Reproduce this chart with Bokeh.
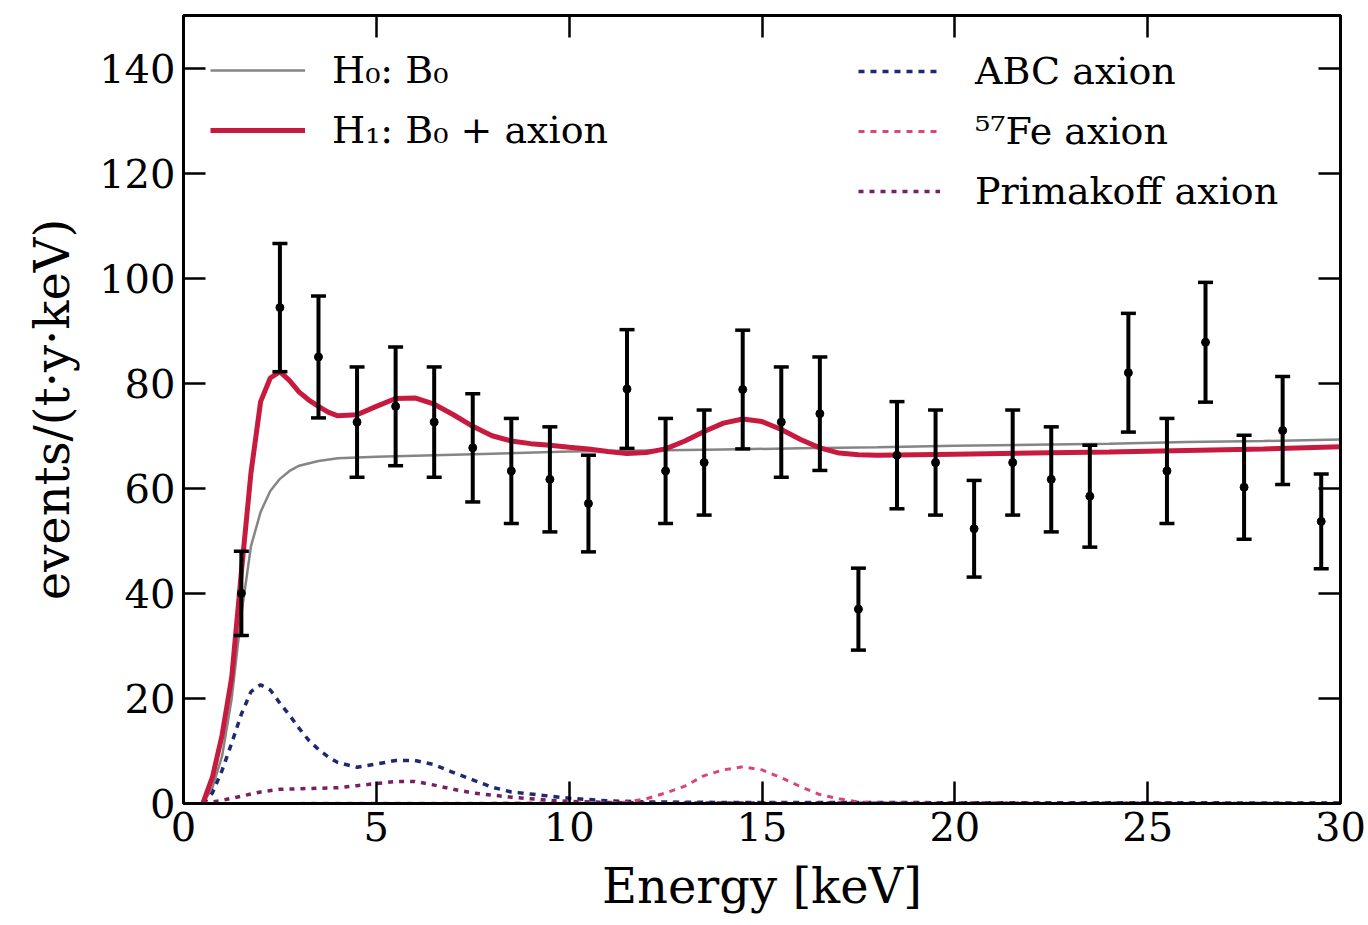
from bokeh.plotting import figure
from bokeh.models import (Legend, LegendItem, LinearAxis, Range1d, FixedTicker,
                          ColumnDataSource, CustomLabelingPolicy)
from bokeh.embed import file_html
from bokeh.resources import INLINE

# ---------------- data ----------------
bin_E = [1.5, 2.5, 3.5, 4.5, 5.5, 6.5, 7.5, 8.5, 9.5, 10.5, 11.5, 12.5, 13.5, 14.5,
         15.5, 16.5, 17.5, 18.5, 19.5, 20.5, 21.5, 22.5, 23.5, 24.5, 25.5, 26.5, 27.5, 28.5, 29.5]
counts = [40.0, 94.4, 85.0, 72.6, 75.6, 72.6, 67.7, 63.3, 61.7, 57.1, 78.9, 63.3, 64.9, 78.8,
          72.6, 74.2, 37.0, 66.3, 64.9, 52.3, 64.9, 61.7, 58.5, 82.0, 63.3, 87.8, 60.2, 71.0, 53.7]
errors = [8.0, 12.2, 11.6, 10.5, 11.3, 10.5, 10.3, 10.0, 10.0, 9.2, 11.3, 10.0, 10.0, 11.3,
          10.5, 10.8, 7.8, 10.2, 10.0, 9.2, 10.0, 10.0, 9.7, 11.3, 10.0, 11.4, 9.9, 10.3, 9.0]

h0_E = [0.5, 0.75, 1.0, 1.25, 1.5, 1.75, 2.0, 2.25, 2.5, 2.75, 3.0, 3.5, 4.0, 5.0, 6.0, 8.0,
        10, 12, 14, 16, 18, 20, 22, 24, 26, 28, 30]
h0_val = [0, 3, 9, 20, 36, 49, 55.5, 59.5, 61.8, 63.3, 64.3, 65.2, 65.7, 66.0, 66.2, 66.6,
          67.0, 67.2, 67.4, 67.6, 67.8, 68.1, 68.3, 68.5, 68.8, 69.0, 69.3]

h1_E = [0.5, 0.75, 1.0, 1.25, 1.5, 1.75, 2.0, 2.25, 2.5, 2.75, 3.0, 3.25, 3.5, 3.75, 4.0, 4.5,
        5.0, 5.5, 6.0, 6.5, 7.0, 7.5, 8.0, 8.5, 9.0, 9.5, 10, 10.5, 11, 11.5, 12, 12.5, 13,
        13.5, 14, 14.5, 15, 15.5, 16, 16.5, 17, 17.5, 18, 20, 22, 24, 26, 28, 30]
h1_val = [0, 5, 13, 24, 44, 63, 76.5, 81, 82.2, 80.5, 78.3, 76.8, 75.6, 74.5, 73.8, 74.0,
          75.6, 77.1, 77.2, 76.0, 74.0, 71.8, 70.0, 69.0, 68.5, 68.2, 67.8, 67.5, 67.0, 66.6,
          66.8, 67.5, 69.0, 70.8, 72.4, 73.2, 72.7, 71.2, 69.3, 67.7, 66.7, 66.4, 66.3, 66.5,
          66.7, 66.9, 67.2, 67.5, 67.9]

abc_E = [0.5, 0.75, 1.0, 1.25, 1.5, 1.75, 2.0, 2.25, 2.5, 2.75, 3.0, 3.25, 3.5, 3.75, 4.0,
         4.5, 5.0, 5.5, 6.0, 6.5, 7.0, 7.5, 8.0, 8.5, 9.0, 9.5, 10, 11, 12, 14, 30]
abc_val = [0, 2.0, 6.3, 11.5, 17.0, 21.3, 22.6, 21.6, 19.1, 16.8, 14.3, 12.0, 10.3, 8.9, 7.8,
           6.9, 7.5, 8.2, 8.2, 7.4, 5.9, 4.5, 3.1, 2.2, 1.8, 1.4, 1.0, 0.5, 0.3, 0.2, 0.1]

fe_E = [0.5, 11, 11.5, 12, 12.5, 13, 13.5, 14, 14.5, 15, 15.5, 16, 16.5, 17, 17.5, 18, 30]
fe_val = [0, 0.1, 0.3, 0.9, 2.0, 3.3, 5.3, 6.4, 7.0, 6.4, 4.9, 3.2, 1.7, 0.9, 0.3, 0.1, 0]

prim_E = [0.5, 1.0, 1.5, 2.0, 2.5, 3.0, 3.5, 4.0, 4.5, 5.0, 5.5, 6.0, 6.5, 7.0, 7.5, 8.0,
          8.5, 9.0, 9.5, 10, 11, 12, 30]
prim_val = [0, 0.6, 1.4, 2.2, 2.7, 2.8, 2.9, 3.0, 3.4, 3.8, 4.2, 4.2, 3.5, 2.7, 2.0, 1.6,
            1.2, 0.9, 0.6, 0.4, 0.2, 0.1, 0]

x_ticks = [0, 5, 10, 15, 20, 25, 30]
y_ticks = [0, 20, 40, 60, 80, 100, 120, 140]

# ---------------- figure ----------------
FONT = "DejaVu Serif"
p = figure(width=1368, height=925, x_range=Range1d(0, 30), y_range=Range1d(0, 150),
           output_backend="svg", toolbar_location=None,
           min_border_left=183, min_border_right=28, min_border_top=15, min_border_bottom=122)
p.background_fill_color = "white"
p.border_fill_color = "white"
p.outline_line_color = "black"
p.outline_line_width = 3
p.xgrid.visible = False
p.ygrid.visible = False

RED = "#c8193f"
GRAY = "#858585"
NAVY = "#1f2a6e"
PINK = "#d8457e"
PURPLE = "#7a2062"

r_h0 = p.line(h0_E, h0_val, line_color=GRAY, line_width=2.5)
r_abc = p.line(abc_E, abc_val, line_color=NAVY, line_width=3.5, line_dash="6 6")
r_fe = p.line(fe_E, fe_val, line_color=PINK, line_width=3, line_dash="6 6")
r_prim = p.line(prim_E, prim_val, line_color=PURPLE, line_width=3.5, line_dash="5 6")
r_h1 = p.line(h1_E, h1_val, line_color=RED, line_width=5)

lo = [c - e for c, e in zip(counts, errors)]
hi = [c + e for c, e in zip(counts, errors)]
src = ColumnDataSource(dict(x=bin_E, y=counts, lo=lo, hi=hi))
p.segment(x0="x", y0="lo", x1="x", y1="hi", source=src, line_color="black", line_width=4)
p.scatter(x="x", y="lo", source=src, marker="dash", size=15, line_color="black", line_width=3.5)
p.scatter(x="x", y="hi", source=src, marker="dash", size=15, line_color="black", line_width=3.5)
p.scatter(x="x", y="y", source=src, marker="circle", size=8, fill_color="black", line_color="black")

# ---------------- axes ----------------
def style_axis(ax, labels=True):
    ax.axis_line_color = "black"
    ax.axis_line_width = 3
    ax.major_tick_in = 22
    ax.major_tick_out = 0
    ax.major_tick_line_width = 2.5
    ax.minor_tick_line_color = None
    if labels:
        ax.major_label_text_font = FONT
        ax.major_label_text_font_size = "40px"
        ax.major_label_text_color = "black"
        ax.axis_label_text_font = FONT
        ax.axis_label_text_font_size = "48px"
        ax.axis_label_text_font_style = "normal"
        ax.axis_label_text_color = "black"
    else:
        ax.major_label_policy = CustomLabelingPolicy(
            code="for (const i of indices) { indices.unset(i) }\nreturn indices")
        ax.major_label_standoff = 0

p.xaxis.ticker = FixedTicker(ticks=x_ticks)
p.yaxis.ticker = FixedTicker(ticks=y_ticks)
p.xaxis.axis_label = "Energy [keV]"
p.yaxis.axis_label = "events/(t·y·keV)"
style_axis(p.xaxis[0])
style_axis(p.yaxis[0])
p.xaxis.major_label_standoff = 8
p.yaxis.major_label_standoff = 8
p.xaxis.axis_label_standoff = 14
p.yaxis.axis_label_standoff = 16

ax_top = LinearAxis(ticker=FixedTicker(ticks=x_ticks))
ax_right = LinearAxis(ticker=FixedTicker(ticks=y_ticks))
style_axis(ax_top, labels=False)
style_axis(ax_right, labels=False)
p.add_layout(ax_top, "above")
p.add_layout(ax_right, "right")

# ---------------- legends ----------------
def make_legend(items, loc, glyph_w, standoff):
    lg = Legend(items=items, location=loc)
    lg.label_text_font = FONT
    lg.label_text_font_size = "38px"
    lg.label_text_color = "black"
    lg.glyph_width = glyph_w
    lg.glyph_height = 46
    lg.label_height = 46
    lg.label_standoff = standoff
    lg.spacing = 14
    lg.padding = 5
    lg.margin = 0
    lg.border_line_color = None
    lg.background_fill_alpha = 0
    return lg

left_legend = make_legend([LegendItem(label="H₀: B₀", renderers=[r_h0]),
                           LegendItem(label="H₁: B₀ + axion", renderers=[r_h1])],
                          (27, 650), 95, 27)
right_legend = make_legend([LegendItem(label="ABC axion", renderers=[r_abc]),
                            LegendItem(label="⁵⁷Fe axion", renderers=[r_fe]),
                            LegendItem(label="Primakoff axion", renderers=[r_prim])],
                           (675, 589), 82, 35)
p.add_layout(left_legend, "center")
p.add_layout(right_legend, "center")

open("out.html", "w").write(file_html(p, INLINE))
